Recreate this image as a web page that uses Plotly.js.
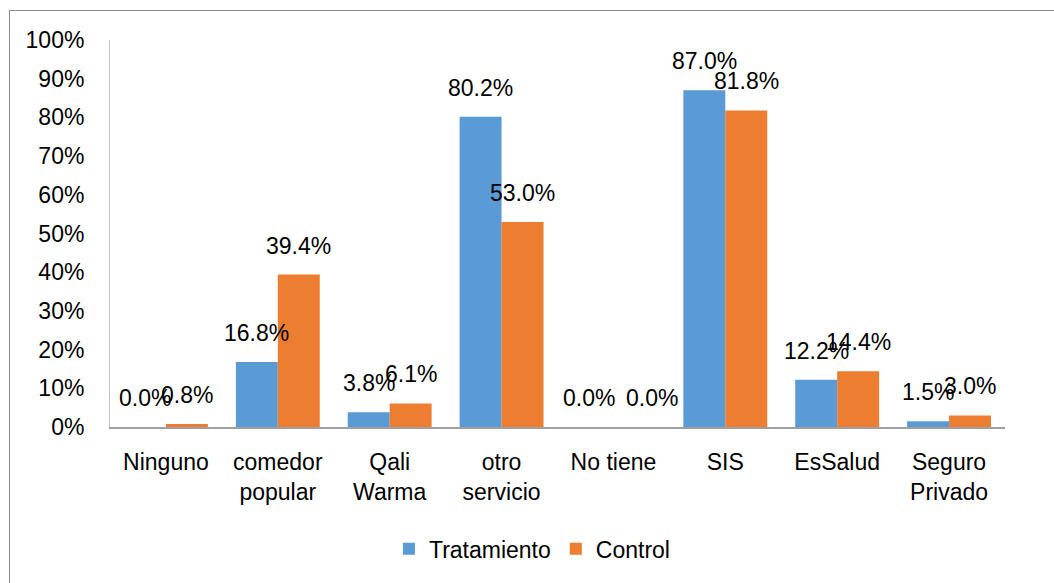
<!DOCTYPE html>
<html>
<head>
<meta charset="utf-8">
<script src="https://cdn.plot.ly/plotly-3.0.1.min.js"></script>
<style>
  html, body { margin: 0; padding: 0; background: #fff; overflow: hidden; }
  #chart { width: 1054px; height: 583px; }
  #frame { position: absolute; left: 9px; top: 10px; width: 1100px; height: 600px; border: 1px solid #8c8c8c; pointer-events: none; }
</style>
</head>
<body>
<div id="chart"></div>
<div id="frame"></div>
<script>
const categories = ["Ninguno", "comedor<br>popular", "Qali<br>Warma", "otro<br>servicio", "No tiene", "SIS", "EsSalud", "Seguro<br>Privado"];
const tratamiento = [0.000, 0.168, 0.038, 0.802, 0.000, 0.870, 0.122, 0.015];
const control = [0.008, 0.394, 0.061, 0.530, 0.000, 0.818, 0.144, 0.030];
const seriesNames = ["Tratamiento", "Control"];
const seriesColors = ["#5B9BD5", "#ED7D31"];

const FONT = "Liberation Sans, Arial, sans-serif";
const FS = 23;

const traces = [tratamiento, control].map((vals, i) => ({
  type: "bar",
  name: seriesNames[i],
  x: categories,
  y: vals,
  marker: { color: seriesColors[i] },
  hoverinfo: "skip"
}));

const plotW = 1054 - 110 - 49;
const barPx = plotW / categories.length * 0.75 / 2;
const annotations = [];
[tratamiento, control].forEach((vals, i) => {
  vals.forEach((v, j) => {
    // when both bars of a group are zero, spread their labels apart a little
    const bothZero = tratamiento[j] === 0 && control[j] === 0;
    const spread = bothZero ? (i === 0 ? -3 : 18) : 0;
    annotations.push({
      x: categories[j], y: v, xref: "x", yref: "y",
      text: (v * 100).toFixed(1) + "%",
      showarrow: false,
      xshift: (i === 0 ? -1 : 1) * barPx / 2 + spread,
      yshift: 29,
      yanchor: "middle",
      font: { family: FONT, size: FS, color: "#000" }
    });
  });
});

const layout = {
  width: 1054, height: 583,
  margin: { l: 110, r: 49, t: 40, b: 156 },
  paper_bgcolor: "#fff", plot_bgcolor: "#fff",
  barmode: "group", bargap: 0.25, bargroupgap: 0,
  font: { family: FONT, size: FS, color: "#000" },
  xaxis: {
    type: "category",
    showline: true, linecolor: "#a0a0a0", linewidth: 1.5,
    showgrid: false, ticks: "", ticklabelstandoff: 14,
    tickfont: { family: FONT, size: FS, color: "#000" },
    fixedrange: true
  },
  yaxis: {
    range: [0, 1], dtick: 0.1, tickformat: ".0%",
    showline: true, linecolor: "#bfbfbf", linewidth: 1,
    showgrid: false, zeroline: false, ticks: "", ticklabelstandoff: 20,
    tickfont: { family: FONT, size: FS, color: "#000" },
    fixedrange: true
  },
  legend: {
    orientation: "h", x: 0.472, xanchor: "center", y: -0.315, yanchor: "middle",
    font: { family: FONT, size: FS, color: "#000" },
    itemclick: false, itemdoubleclick: false
  },
  annotations: annotations,
  showlegend: true
};

Plotly.newPlot("chart", traces, layout, { staticPlot: true, displayModeBar: false });
</script>
</body>
</html>
